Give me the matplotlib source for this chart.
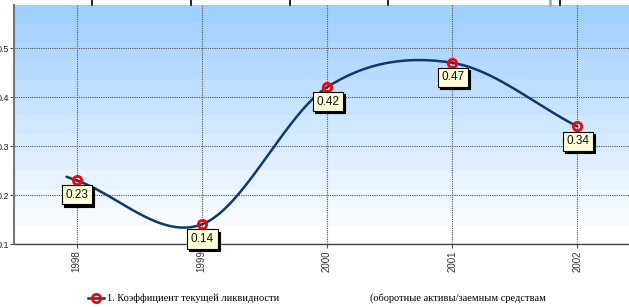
import numpy as np
import matplotlib
matplotlib.use("Agg")
import matplotlib.pyplot as plt
from matplotlib.lines import Line2D

years = [1998, 1999, 2000, 2001, 2002]
values = [0.23, 0.14, 0.42, 0.47, 0.34]
ytick_vals = [0.1, 0.2, 0.3, 0.4, 0.5]
legend_label = "1. Коэффициент текущей ликвидности"
legend_note = "(оборотные активы/заемным средствам"


def catmull_rom(x, y, xs):
    x = np.asarray(x, float); y = np.asarray(y, float)
    n = len(x)
    m = np.zeros(n)
    m[0] = (y[1] - y[0]) / (x[1] - x[0])
    m[-1] = (y[-1] - y[-2]) / (x[-1] - x[-2])
    for i in range(1, n - 1):
        m[i] = (y[i + 1] - y[i - 1]) / (x[i + 1] - x[i - 1])
    out = []
    for tx in xs:
        if tx < x[0]:
            out.append(y[0] + m[0] * (tx - x[0]))
            continue
        i = int(np.clip(np.searchsorted(x, tx) - 1, 0, n - 2))
        h = x[i + 1] - x[i]
        t = (tx - x[i]) / h
        h00 = 2 * t**3 - 3 * t**2 + 1
        h10 = t**3 - 2 * t**2 + t
        h01 = -2 * t**3 + 3 * t**2
        h11 = t**3 - t**2
        out.append(h00 * y[i] + h10 * h * m[i] + h01 * y[i + 1] + h11 * h * m[i + 1])
    return np.array(out)


W, H = 629, 307
fig = plt.figure(figsize=(W / 100, H / 100), dpi=100)
fig.patch.set_facecolor("white")

ax = fig.add_axes([14 / W, (H - 244) / H, (640 - 14) / W, (244 - 5) / H])
ax.set_xlim(1997.5, 2002.5)
ax.set_ylim(0.1, 0.588)

# banded gradient background (light blue at top -> white at bottom)
top = np.array([159, 208, 255]) / 255
bot = np.array([255, 255, 255]) / 255
nb = 13
grad = np.zeros((nb, 1, 3))
for k in range(nb):
    t = k / (nb - 1)
    grad[k, 0] = top * (1 - t) + bot * t
ax.imshow(grad, extent=[1997.5, 2002.5, 0.1, 0.588], origin="upper", aspect="auto",
          zorder=0, interpolation="nearest")

ax.set_yticks(ytick_vals)
ax.set_yticklabels([f"{v:.1f}" for v in ytick_vals], fontsize=6.5, family="Liberation Sans", color="#222222")
ax.set_xticks(years)
ax.set_xticklabels([str(y) for y in years], rotation=90, fontsize=7, family="Liberation Sans", color="#333333")
ax.tick_params(axis="y", length=3, width=0.8, color="#555555", pad=0.5)
ax.tick_params(axis="x", length=3, width=0.8, color="#555555", pad=1.5)
ax.grid(True, linestyle=(0, (1, 1)), color="#555555", linewidth=0.8, zorder=1)
for s in ["top", "right"]:
    ax.spines[s].set_visible(False)
ax.spines["left"].set_color("#777777"); ax.spines["left"].set_linewidth(1.5)
ax.spines["bottom"].set_color("#444444"); ax.spines["bottom"].set_linewidth(1.0)

xs = np.linspace(years[0] - 0.08, years[-1], 400)
ys = catmull_rom(years, values, xs)
ax.plot(xs, ys, color="#0d3a6e", lw=1.8, zorder=3, solid_capstyle="round")
ax.plot(years, values, ls="none", marker="o", ms=6, mfc="none", mec="#ff0000", mew=2, zorder=4)

for xv, yv in zip(years, values):
    ax.annotate(f"{yv:.2f}", (xv, yv), xytext=(0.5, -10.5), textcoords="offset points",
                ha="center", va="center", fontsize=8.5, family="Liberation Sans", color="#111111", zorder=6,
                bbox=dict(boxstyle="square,pad=0.3", fc="#ffffd8", ec="#000000", lw=0.8))
    ax.annotate(f"{yv:.2f}", (xv, yv), xytext=(2.0, -12.0), textcoords="offset points",
                ha="center", va="center", fontsize=8.5, family="Liberation Sans", color="#000000", zorder=5,
                bbox=dict(boxstyle="square,pad=0.3", fc="#000000", ec="#000000", lw=0.8))

# top artifacts
for px in [92, 191, 290, 388, 560]:
    fig.add_artist(Line2D([px / W, px / W], [1, 1 - 5 / H], color="black", lw=1.2))
fig.add_artist(Line2D([550 / W, 550 / W], [1, 1 - 5 / H], color="#aaaaaa", lw=2))

# legend
ly = 1 - 298 / H
fig.add_artist(Line2D([88 / W, 104 / W], [ly, ly], color="#0d3a6e", lw=1.8))
fig.add_artist(Line2D([96 / W], [ly], ls="none", marker="o", ms=6, mfc="none", mec="#ff0000", mew=2))
fig.text(107 / W, ly, legend_label, fontsize=7.5, family="Liberation Serif", va="center", ha="left")
fig.text(370 / W, ly, legend_note, fontsize=7.5, family="Liberation Serif", va="center", ha="left")

fig.savefig("out.png", dpi=100)
